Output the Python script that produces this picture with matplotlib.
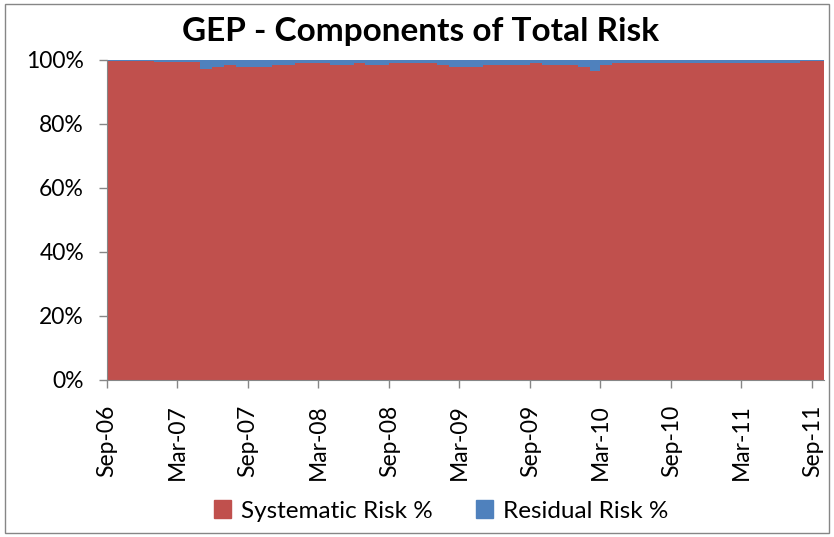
import numpy as np
import pandas as pd
import matplotlib
matplotlib.use('Agg')
import matplotlib.pyplot as plt
import matplotlib.dates as mdates
from matplotlib.patches import Patch, Rectangle

plt.rcParams['font.family'] = ['Lato', 'DejaVu Sans']

# monthly residual risk share (%), Sep-06 .. Sep-11
residual = [0.3, 0.3, 0.3, 0.3, 0.7, 0.7, 0.7, 0.7, 2.7, 2.1,
            1.6, 2.1, 2.1, 2.1, 1.6, 1.6, 0.9, 0.9, 0.9, 1.6,
            1.6, 0.9, 1.6, 1.6, 0.9, 0.9, 0.9, 0.9, 1.6, 2.1,
            2.1, 2.1, 1.6, 1.6, 1.6, 1.6, 0.9, 1.6, 1.6, 1.6,
            2.1, 3.3, 1.6, 0.8, 0.8, 0.8, 0.8, 0.8, 0.8, 0.8,
            0.8, 0.8, 0.8, 0.8, 0.8, 0.8, 0.8, 0.8, 0.8, 0.3,
            0.3]
dates = pd.date_range('2006-09-01', periods=len(residual) + 1, freq='MS')
residual = np.array(residual + [residual[-1]]) / 100.0
systematic = 1.0 - residual

red = '#C0504D'
blue = '#4F81BD'

fig = plt.figure(figsize=(8.34, 5.37), dpi=100)
ax = fig.add_axes([107/834, 1 - 380/537, (824 - 107)/834, 320/537])

ax.fill_between(dates, 0, systematic, step='post', color=red, linewidth=0)
ax.fill_between(dates, systematic, 1.0, step='post', color=blue, linewidth=0)

ax.set_xlim(dates[0], dates[-1])
ax.set_ylim(0, 1)
ax.set_yticks(np.arange(0, 1.01, 0.2))
ax.set_yticklabels(['%d%%' % v for v in range(0, 101, 20)])

ticks = pd.date_range('2006-09-01', '2011-09-01', freq='6MS')
ax.set_xticks(ticks)
ax.xaxis.set_major_formatter(mdates.DateFormatter('%b-%y'))
plt.setp(ax.get_xticklabels(), rotation=90)

for s in ['top', 'right']:
    ax.spines[s].set_visible(False)
for s in ['left', 'bottom']:
    ax.spines[s].set_color('#868686')
ax.tick_params(axis='both', colors='#868686', labelcolor='black', labelsize=16.5, length=5.5, width=1)
ax.tick_params(axis='y', pad=11)
ax.tick_params(axis='x', pad=12)

fig.text(420/834, 1 - 32/537, 'GEP - Components of Total Risk', ha='center', va='center',
         fontsize=24, fontweight='bold')

handles = [Patch(color=red, label='Systematic Risk %'), Patch(color=blue, label='Residual Risk %')]
fig.legend(handles=handles, loc='center', bbox_to_anchor=(441/834, 1 - 511/537), ncol=2,
           frameon=False, fontsize=17.5, handlelength=0.7, handleheight=0.7, handletextpad=0.4,
           columnspacing=1.8)

fig.patches.append(Rectangle((5/834, 4/537), 824/834, 529/537, transform=fig.transFigure,
                             fill=False, edgecolor='#868686', linewidth=1))

fig.savefig('out.png', dpi=100)
